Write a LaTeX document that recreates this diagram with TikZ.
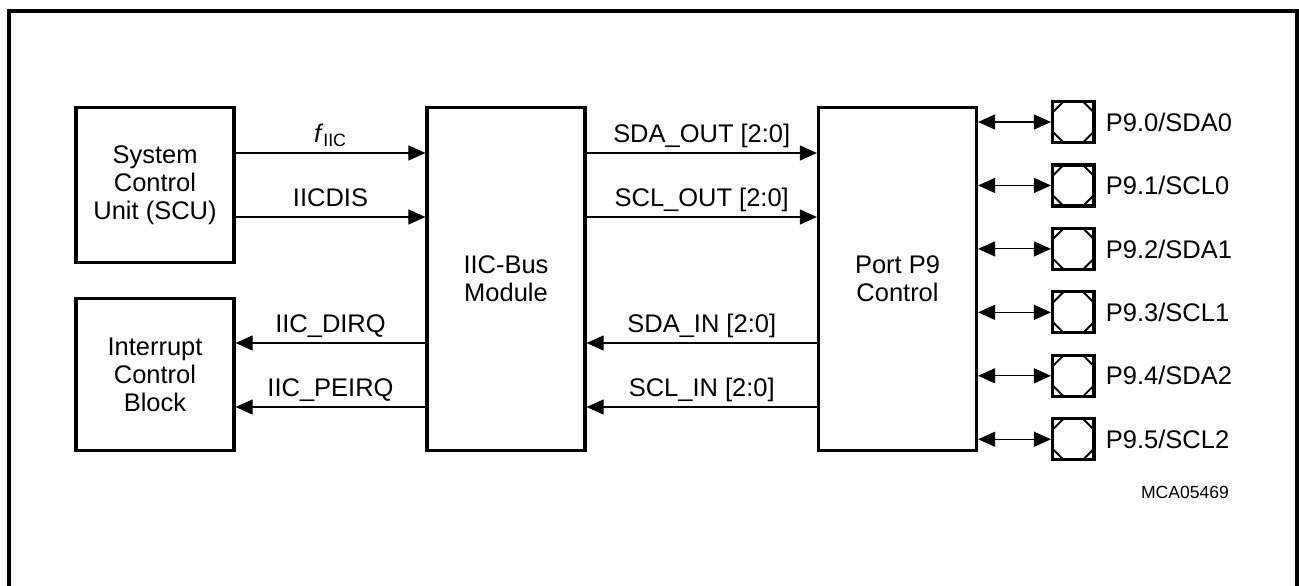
\documentclass[tikz,border=0pt]{standalone}
\usepackage{fontspec}
\setmainfont{Liberation Sans}
\usetikzlibrary{arrows.meta, positioning, calc}

\begin{document}
\begin{tikzpicture}[
    x=0.2mm, y=-0.2mm,
    block/.style={rectangle, draw, line width=1.8pt, minimum width=31.6mm, align=center, font=\fontsize{14.5}{16}\selectfont},
    sig/.style={line width=0.6pt, -{Triangle[length=3.4mm, width=3mm]}},
    bidir/.style={line width=0.6pt, {Triangle[length=3.4mm, width=3mm]}-{Triangle[length=3.4mm, width=3mm]}},
    lbl/.style={anchor=base, inner sep=0pt, yshift=2.1mm, font=\fontsize{14.5}{16}\selectfont},
    pad/.style={rectangle, draw, line width=1.8pt, minimum width=8.3mm, minimum height=8.2mm, inner sep=0pt,
        path picture={
            \draw[line width=1.1pt] ([xshift=2.2mm]path picture bounding box.north west) -- ([yshift=-2.2mm]path picture bounding box.north west);
            \draw[line width=1.1pt] ([xshift=-2.2mm]path picture bounding box.north east) -- ([yshift=-2.2mm]path picture bounding box.north east);
            \draw[line width=1.1pt] ([xshift=2.2mm]path picture bounding box.south west) -- ([yshift=2.2mm]path picture bounding box.south west);
            \draw[line width=1.1pt] ([xshift=-2.2mm]path picture bounding box.south east) -- ([yshift=2.2mm]path picture bounding box.south east);
        }},
    padlbl/.style={anchor=west, inner sep=0pt, font=\fontsize{14.5}{16}\selectfont}
]
\useasboundingbox (0,0) rectangle (1299,585);
\draw[line width=1.8pt] (9,620) -- (9,11) -- (1297,11) -- (1297,620);

% blocks
\node[block, minimum height=31mm] (scu) at (155,185) {System\\Control\\Unit (SCU)};
\node[block, minimum height=30.4mm] (icb) at (155,374.5) {Interrupt\\Control\\Block};
\node[block, minimum height=68.6mm] (iic) at (506,279) {IIC-Bus\\Module};
\node[block, minimum height=68.6mm] (port) at (897.5,279) {Port P9\\Control};

% SCU -> IIC
\draw[sig] ([yshift=25.2mm]iic.west -| scu.east) -- ([yshift=25.2mm]iic.west) node[lbl, midway] (fiic) {\textit{f}\textsubscript{IIC}};
\draw[sig] ([yshift=12.4mm]iic.west -| scu.east) -- ([yshift=12.4mm]iic.west) node[lbl, midway] (iicdis) {IICDIS};

% IIC -> interrupts
\draw[sig] ([yshift=-12.8mm]iic.west) -- ([yshift=-12.8mm]iic.west -| icb.east) node[lbl, midway] (dirq) {IIC\_DIRQ};
\draw[sig] ([yshift=-25.6mm]iic.west) -- ([yshift=-25.6mm]iic.west -| icb.east) node[lbl, midway] (peirq) {IIC\_PEIRQ};

% IIC <-> port
\draw[sig] ([yshift=25.2mm]iic.east) -- ([yshift=25.2mm]iic.east -| port.west) node[lbl, midway] (sdaout) {SDA\_OUT [2:0]};
\draw[sig] ([yshift=12.4mm]iic.east) -- ([yshift=12.4mm]iic.east -| port.west) node[lbl, midway] (sclout) {SCL\_OUT [2:0]};
\draw[sig] ([yshift=-12.8mm]iic.east -| port.west) -- ([yshift=-12.8mm]iic.east) node[lbl, midway] (sdain) {SDA\_IN [2:0]};
\draw[sig] ([yshift=-25.6mm]iic.east -| port.west) -- ([yshift=-25.6mm]iic.east) node[lbl, midway] (sclin) {SCL\_IN [2:0]};

% pins
\foreach \i/\fn in {0/SDA0, 1/SCL0, 2/SDA1, 3/SCL1, 4/SDA2, 5/SCL2} {
    \node[pad] (pad\i) at (1073.3, 122+63.45*\i) {};
    \node[padlbl, right=2mm of pad\i.east] (padlbl\i) {P9.\i/\fn};
    \draw[bidir] (pad\i.west -| port.east) -- (pad\i.west);
}

\node[font=\fontsize{10}{12}\selectfont] (mca) at (1185,492) {MCA05469};
\end{tikzpicture}
\end{document}
